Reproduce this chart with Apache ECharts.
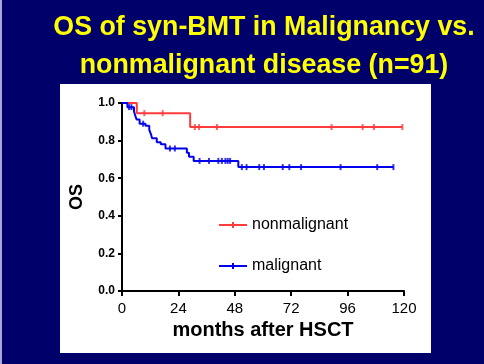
<!DOCTYPE html>
<html><head><meta charset="utf-8">
<script src="https://cdn.jsdelivr.net/npm/echarts@6/dist/echarts.min.js"></script>
<style>html,body{margin:0;padding:0;background:#00006b}#c{width:484px;height:364px}</style>
</head><body><div id="c"></div>
<script>
const titleText = 'OS of syn-BMT in Malignancy vs.\nnonmalignant disease (n=91)';
const xTicks = [0, 24, 48, 72, 96, 120];
const yTicks = [0.0, 0.2, 0.4, 0.6, 0.8, 1.0];
const seriesNames = ['nonmalignant', 'malignant'];
// Kaplan-Meier steps: [months, survival]
const nonmalignantSteps = [[0,1.0],[6.3,0.946],[29,0.872],[119.3,0.872]];
const malignantSteps = [[0,1.0],[2.3,0.978],[5.1,0.956],[5.6,0.934],[6.2,0.912],[7.5,0.89],[10,0.879],[11.6,0.857],[12.3,0.835],[12.8,0.813],[14.8,0.791],[16.5,0.78],[18.5,0.758],[27.6,0.736],[28.5,0.714],[30.5,0.692],[49.5,0.659],[115.5,0.659]];
// censored times (months)
const nonmalignantCensor = [9.5,17.3,31,32.8,40.4,89.2,102.4,107.2,119.3];
const malignantCensor = [3,4,9,20.4,22.5,33,37,41,42.5,44,45,46,51,53,58.4,60.4,68.4,71.2,76.2,93,108.6,115.5];

function survAt(steps, t){ let s = steps[0][1]; for (const p of steps){ if (p[0] <= t) s = p[1]; } return s; }
const font = 'Liberation Sans, Arial, sans-serif';
const red = '#ff3b3b', blue = '#0000ee';
const legendIcon = 'path://M0,4 H28 V6 H0 Z M13,2 H15 V8 H13 Z';

const chart = echarts.init(document.getElementById('c'), null, {renderer:'canvas'});
chart.setOption({
  backgroundColor: '#00006b',
  animation: false,
  graphic: [
    {type:'rect', shape:{x:0,y:0,width:2,height:364}, style:{fill:'#a8a8d8'}, z:-1},
    {type:'rect', shape:{x:60,y:84,width:371,height:269}, style:{fill:'#ffffff'}, z:-1}
  ],
  title: {
    text: titleText, left: 259, textAlign: 'center', top: 4,
    textStyle: {fontFamily: font, fontSize: 26.8, fontWeight: 'bold', color: '#ffff00', lineHeight: 38}
  },
  legend: {
    data: seriesNames.map(n => ({name: n, icon: legendIcon})),
    orient: 'vertical', left: 219, top: 217, padding: 0, itemWidth: 28, itemHeight: 14, itemGap: 25,
    textStyle: {fontFamily: font, fontSize: 16, color: '#000'}
  },
  grid: {left: 122, right: 80, top: 103, bottom: 73},
  xAxis: {
    type: 'value', min: xTicks[0], max: xTicks[xTicks.length-1], interval: 24,
    name: 'months after HSCT', nameLocation: 'middle', nameGap: 27,
    nameTextStyle: {fontFamily: font, fontSize: 20, fontWeight: 'bold', color: '#000'},
    axisLine: {lineStyle: {color: '#000', width: 2}},
    axisTick: {length: 5, lineStyle: {color: '#000', width: 2}},
    axisLabel: {fontFamily: font, fontSize: 15, color: '#000', margin: 10},
    splitLine: {show: false}
  },
  yAxis: {
    type: 'value', min: yTicks[0], max: yTicks[yTicks.length-1], interval: 0.2,
    name: 'OS', nameLocation: 'middle', nameGap: 36,
    nameTextStyle: {fontFamily: font, fontSize: 18, fontWeight: 'bold', color: '#000'},
    axisLine: {show: true, lineStyle: {color: '#000', width: 2}},
    axisTick: {show: true, length: 4, lineStyle: {color: '#000', width: 2}},
    axisLabel: {fontFamily: font, fontSize: 12, fontWeight: 'bold', color: '#000', margin: 7, formatter: v => v.toFixed(1)},
    splitLine: {show: false}
  },
  series: [
    {name: seriesNames[0], type: 'line', step: 'end', data: nonmalignantSteps, showSymbol: false,
     lineStyle: {color: red, width: 2}, itemStyle: {color: red}, z: 3},
    {name: seriesNames[1], type: 'line', step: 'end', data: malignantSteps, showSymbol: false,
     lineStyle: {color: blue, width: 2}, itemStyle: {color: blue}, z: 4},
    {name: seriesNames[0]+'_c', type: 'scatter', data: nonmalignantCensor.map(t => [t, survAt(nonmalignantSteps, t)]),
     symbol: 'rect', symbolSize: [2,6], itemStyle: {color: red}, z: 5},
    {name: seriesNames[1]+'_c', type: 'scatter', data: malignantCensor.map(t => [t, survAt(malignantSteps, t)]),
     symbol: 'rect', symbolSize: [2,6], itemStyle: {color: blue}, z: 6}
  ]
});
</script></body></html>
